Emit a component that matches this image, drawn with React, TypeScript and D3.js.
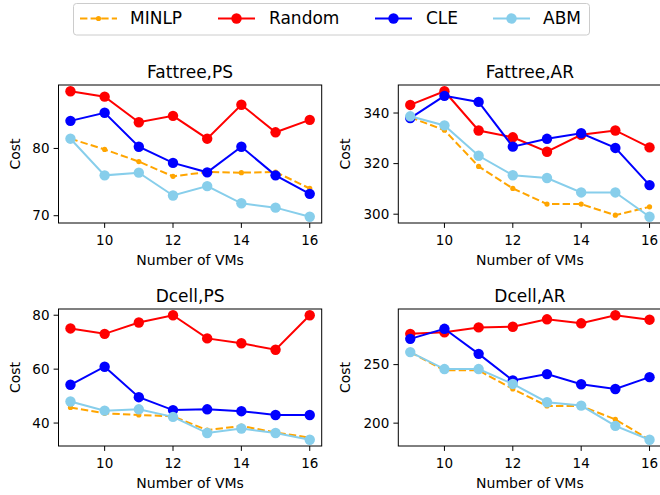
import React from "react";
import * as d3 from "d3";

const vms = [9, 10, 11, 12, 13, 14, 15, 16];
const xTicks = [10, 12, 14, 16];

const seriesNames = ["MINLP", "Random", "CLE", "ABM"];
const seriesColors = ["#FFA500", "#FF0000", "#0000FF", "#87CEEB"];

// Fattree,PS
const ftPsMINLP = [81.45, 79.85, 78.05, 75.85, 76.5, 76.4, 76.5, 74.05];
const ftPsRandom = [88.5, 87.7, 83.9, 84.85, 81.45, 86.5, 82.4, 84.25];
const ftPsCLE = [84.1, 85.3, 80.25, 77.85, 76.45, 80.25, 76.0, 73.25];
const ftPsABM = [81.45, 76.0, 76.4, 73.0, 74.4, 71.85, 71.2, 69.85];
const ftPsTicks = [70, 80];

// Fattree,AR
const ftArMINLP = [338.3, 333.2, 318.9, 310.2, 304.0, 304.0, 299.6, 302.9];
const ftArRandom = [343.2, 348.6, 333.1, 330.4, 324.7, 331.4, 333.1, 326.4];
const ftArCLE = [338.0, 346.8, 344.4, 326.7, 329.8, 332.0, 326.2, 311.5];
const ftArABM = [338.7, 335.1, 323.1, 315.4, 314.3, 308.6, 308.6, 299.0];
const ftArTicks = [300, 320, 340];

// Dcell,PS
const dcPsMINLP = [45.8, 43.6, 43.0, 42.5, 37.4, 38.9, 36.5, 34.6];
const dcPsRandom = [75.1, 73.1, 77.3, 80.0, 71.4, 69.6, 67.2, 80.0];
const dcPsCLE = [54.2, 60.9, 49.6, 44.8, 45.1, 44.4, 43.0, 43.0];
const dcPsABM = [48.0, 44.6, 45.1, 42.3, 36.3, 38.0, 36.3, 33.8];
const dcPsTicks = [40, 60, 80];

// Dcell,AR
const dcArMINLP = [260.7, 245.1, 245.1, 229.2, 214.7, 214.7, 203.2, 185.8];
const dcArRandom = [276.3, 277.7, 281.8, 282.4, 288.7, 285.3, 292.2, 288.4];
const dcArCLE = [272.0, 280.6, 259.2, 236.4, 241.9, 233.2, 229.2, 239.3];
const dcArABM = [260.7, 246.2, 246.2, 233.5, 217.9, 215.0, 197.7, 185.8];
const dcArTicks = [200, 250];

const panelTitles = ["Fattree,PS", "Fattree,AR", "Dcell,PS", "Dcell,AR"];
const panelData = [
  [ftPsMINLP, ftPsRandom, ftPsCLE, ftPsABM],
  [ftArMINLP, ftArRandom, ftArCLE, ftArABM],
  [dcPsMINLP, dcPsRandom, dcPsCLE, dcPsABM],
  [dcArMINLP, dcArRandom, dcArCLE, dcArABM],
];
const panelYTicks = [ftPsTicks, ftArTicks, dcPsTicks, dcArTicks];

const FONT = "DejaVu Sans, sans-serif";
const boxW = 263.2;
const boxes = [
  { x: 58.5, y: 85, h: 138, costX: 15 },
  { x: 398.3, y: 85, h: 138, costX: 345 },
  { x: 58.5, y: 309, h: 137, costX: 15 },
  { x: 398.3, y: 309, h: 137, costX: 345 },
];

function Panel({ idx }: { idx: number }) {
  const b = boxes[idx];
  const data = panelData[idx];
  const all = data.flat();
  const [mn, mx] = d3.extent(all) as [number, number];
  const m = (mx - mn) * 0.05;
  const x = d3.scaleLinear().domain([9 - 0.35, 16 + 0.35]).range([b.x, b.x + boxW]);
  const y = d3.scaleLinear().domain([mn - m, mx + m]).range([b.y + b.h, b.y]);
  const line = d3
    .line<number>()
    .x((_, i) => x(vms[i]))
    .y((d) => y(d));
  const bottom = b.y + b.h;
  return (
    <g>
      <text x={b.x + boxW / 2} y={b.y - 7.5} textAnchor="middle" fontSize={17} fontFamily={FONT} fill="#000">
        {panelTitles[idx]}
      </text>
      {data.map((s, si) => (
        <g key={si}>
          <path
            d={line(s) || ""}
            fill="none"
            stroke={seriesColors[si]}
            strokeWidth={2}
            strokeDasharray={si === 0 ? "7.4,3.2" : undefined}
          />
          {s.map((v, i) => (
            <circle key={i} cx={x(vms[i])} cy={y(v)} r={si === 0 ? 2.6 : 5.2} fill={seriesColors[si]} />
          ))}
        </g>
      ))}
      <rect x={b.x} y={b.y} width={boxW} height={b.h} fill="none" stroke="#000" strokeWidth={1} />
      {xTicks.map((t) => (
        <g key={t}>
          <line x1={x(t)} x2={x(t)} y1={bottom} y2={bottom + 4.9} stroke="#000" strokeWidth={1} />
          <text x={x(t)} y={bottom + 11.5} dy="0.76em" textAnchor="middle" fontSize={13.5} fontFamily={FONT} fill="#000">
            {t}
          </text>
        </g>
      ))}
      {panelYTicks[idx].map((t) => (
        <g key={t}>
          <line x1={b.x - 4.9} x2={b.x} y1={y(t)} y2={y(t)} stroke="#000" strokeWidth={1} />
          <text x={b.x - 9} y={y(t)} dy="0.35em" textAnchor="end" fontSize={13.5} fontFamily={FONT} fill="#000">
            {t}
          </text>
        </g>
      ))}
      <text
        x={b.costX}
        y={b.y + b.h / 2}
        transform={`rotate(-90 ${b.costX} ${b.y + b.h / 2})`}
        textAnchor="middle"
        dy="0.35em"
        fontSize={14}
        fontFamily={FONT}
        fill="#000"
      >
        Cost
      </text>
      <text x={b.x + boxW / 2} y={bottom + 37} dy="0.35em" textAnchor="middle" fontSize={14} fontFamily={FONT} fill="#000">
        Number of VMs
      </text>
    </g>
  );
}

const legendLineX = [80, 218, 375, 493];
const legendTextX = [130, 269, 426, 543];

function Legend() {
  const cy = 18.5;
  return (
    <g>
      <rect x={73.5} y={3.5} width={516} height={31.5} rx={3} fill="#fff" stroke="#ccc" strokeWidth={1} />
      {seriesNames.map((n, i) => (
        <g key={n}>
          <line
            x1={legendLineX[i]}
            x2={legendLineX[i] + 37}
            y1={cy}
            y2={cy}
            stroke={seriesColors[i]}
            strokeWidth={2}
            strokeDasharray={i === 0 ? "7.4,3.2" : undefined}
          />
          <circle cx={legendLineX[i] + 18.5} cy={cy} r={i === 0 ? 2.6 : 5.2} fill={seriesColors[i]} />
          <text x={legendTextX[i]} y={cy} dy="0.35em" fontSize={17} fontFamily={FONT} fill="#000">
            {n}
          </text>
        </g>
      ))}
    </g>
  );
}

export default function App() {
  return (
    <svg
      width={660}
      height={495}
      style={{ position: "absolute", left: 0, top: 0, background: "#fff" }}
    >
      <rect x={0} y={0} width={660} height={495} fill="#fff" />
      {[0, 1, 2, 3].map((i) => (
        <Panel key={i} idx={i} />
      ))}
      <Legend />
    </svg>
  );
}
